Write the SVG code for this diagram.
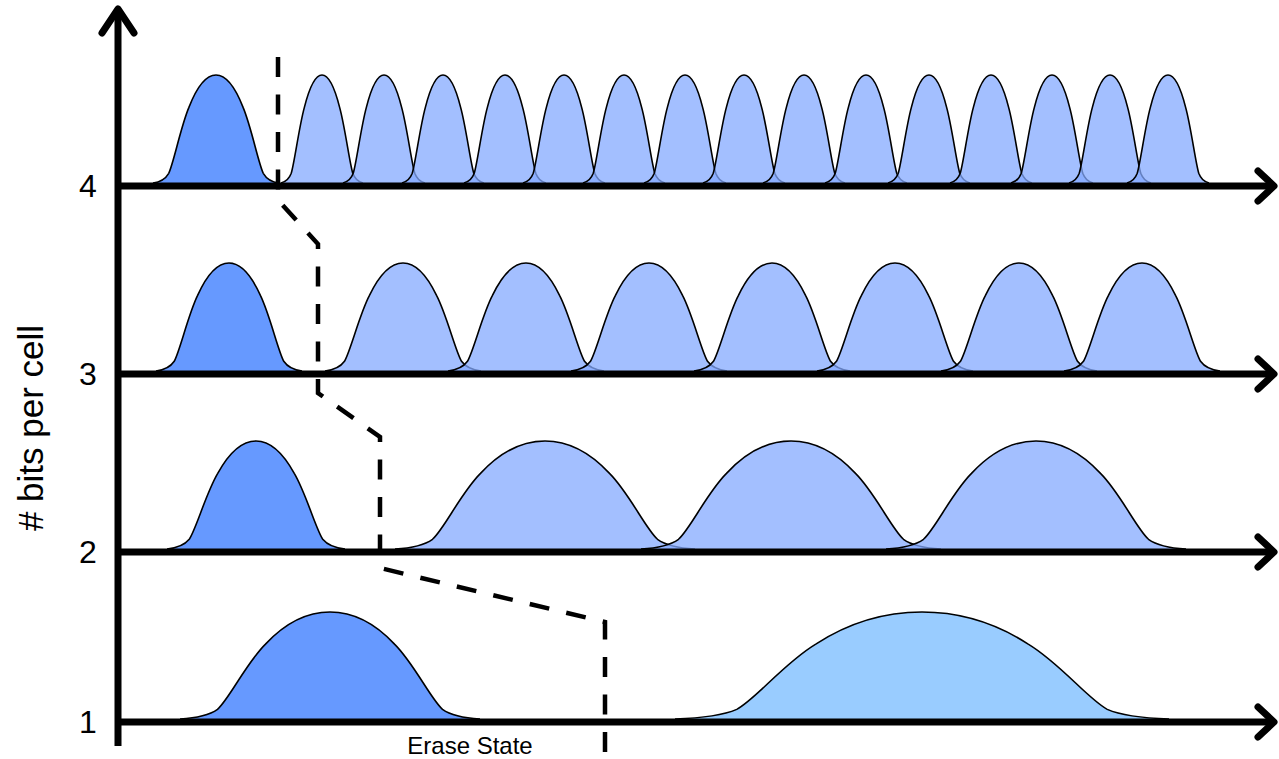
<svg xmlns="http://www.w3.org/2000/svg" xmlns:xlink="http://www.w3.org/1999/xlink" width="1279" height="759" viewBox="0 0 1279 759">
<style>
.bell{stroke:#000;stroke-width:1.6;vector-effect:non-scaling-stroke;stroke-linejoin:round}
.erase{fill:#6699FF}
.prog{fill:#84AAFF;fill-opacity:0.75}
.slc{fill:#99CCFF}
.axis{stroke:#000;stroke-width:7;fill:none;stroke-linecap:butt}
.head{stroke:#000;stroke-width:7;fill:none;stroke-linecap:round;stroke-linejoin:round}
.lbl{font-family:"Liberation Sans",Arial,sans-serif;fill:#000}
.dash{stroke:#000;stroke-width:4.5;fill:none;stroke-dasharray:20 17.5}
</style>
<defs>
<path id="b" class="bell" d="M-1,0 C-0.88,-0.01 -0.8,-0.04 -0.75,-0.09 C-0.67,-0.19 -0.56,-0.52 -0.43,-0.7 C-0.31,-0.88 -0.17,-1 0,-1 C0.17,-1 0.31,-0.88 0.43,-0.7 C0.56,-0.52 0.67,-0.19 0.75,-0.09 C0.8,-0.04 0.88,-0.01 1,0"/>
</defs>
<g id="row4">
<use xlink:href="#b" class="erase" transform="translate(216,183) scale(63,108)"/>
<use xlink:href="#b" class="prog" transform="translate(322,183) scale(41,108)"/>
<use xlink:href="#b" class="prog" transform="translate(384,183) scale(41,108)"/>
<use xlink:href="#b" class="prog" transform="translate(443,183) scale(41,108)"/>
<use xlink:href="#b" class="prog" transform="translate(505,183) scale(41,108)"/>
<use xlink:href="#b" class="prog" transform="translate(564,183) scale(41,108)"/>
<use xlink:href="#b" class="prog" transform="translate(624,183) scale(41,108)"/>
<use xlink:href="#b" class="prog" transform="translate(685,183) scale(41,108)"/>
<use xlink:href="#b" class="prog" transform="translate(744,183) scale(41,108)"/>
<use xlink:href="#b" class="prog" transform="translate(804,183) scale(41,108)"/>
<use xlink:href="#b" class="prog" transform="translate(866,183) scale(41,108)"/>
<use xlink:href="#b" class="prog" transform="translate(929,183) scale(41,108)"/>
<use xlink:href="#b" class="prog" transform="translate(991,183) scale(41,108)"/>
<use xlink:href="#b" class="prog" transform="translate(1052,183) scale(41,108)"/>
<use xlink:href="#b" class="prog" transform="translate(1110,183) scale(41,108)"/>
<use xlink:href="#b" class="prog" transform="translate(1168,183) scale(41,108)"/>
</g>
<g id="row3">
<use xlink:href="#b" class="erase" transform="translate(229,371) scale(73,108)"/>
<use xlink:href="#b" class="prog" transform="translate(403,371) scale(78,108)"/>
<use xlink:href="#b" class="prog" transform="translate(526,371) scale(78,108)"/>
<use xlink:href="#b" class="prog" transform="translate(649,371) scale(78,108)"/>
<use xlink:href="#b" class="prog" transform="translate(772,371) scale(78,108)"/>
<use xlink:href="#b" class="prog" transform="translate(895,371) scale(78,108)"/>
<use xlink:href="#b" class="prog" transform="translate(1019,371) scale(78,108)"/>
<use xlink:href="#b" class="prog" transform="translate(1142,371) scale(78,108)"/>
</g>
<g id="row2">
<use xlink:href="#b" class="erase" transform="translate(256,549) scale(89,108)"/>
<use xlink:href="#b" class="prog" transform="translate(545,549) scale(150,108)"/>
<use xlink:href="#b" class="prog" transform="translate(791,549) scale(150,108)"/>
<use xlink:href="#b" class="prog" transform="translate(1036,549) scale(150,108)"/>
</g>
<g id="row1">
<use xlink:href="#b" class="erase" transform="translate(330,719) scale(150,107)"/>
<use xlink:href="#b" class="slc" transform="translate(922,719) scale(247,107)"/>
</g>
<g id="axes">
<line class="axis" x1="118" y1="746" x2="118" y2="10"/>
<path class="head" d="M102,33 L118,9 L134,33"/>
<line class="axis" x1="118" y1="186" x2="1273" y2="186"/>
<path class="head" d="M1258,171 L1274,186 L1258,201"/>
<line class="axis" x1="118" y1="374" x2="1273" y2="374"/>
<path class="head" d="M1258,359 L1274,374 L1258,389"/>
<line class="axis" x1="118" y1="552" x2="1273" y2="552"/>
<path class="head" d="M1258,537 L1274,552 L1258,567"/>
<line class="axis" x1="118" y1="722" x2="1273" y2="722"/>
<path class="head" d="M1258,707 L1274,722 L1258,737"/>
</g>
<g id="connectors">
<path class="dash" d="M278,57 L278,200 L318,244 L318,393 L380,437 L380,568 L605,622 L605,757"/>
</g>
<g id="labels">
<text class="lbl" x="88" y="197" font-size="32" text-anchor="middle">4</text>
<text class="lbl" x="88" y="385" font-size="32" text-anchor="middle">3</text>
<text class="lbl" x="88" y="563" font-size="32" text-anchor="middle">2</text>
<text class="lbl" x="88" y="733" font-size="32" text-anchor="middle">1</text>
<text class="lbl" transform="translate(43,428) rotate(-90)" font-size="35" text-anchor="middle"># bits per cell</text>
<text class="lbl" x="470" y="754" font-size="24" text-anchor="middle">Erase State</text>
</g>
</svg>
